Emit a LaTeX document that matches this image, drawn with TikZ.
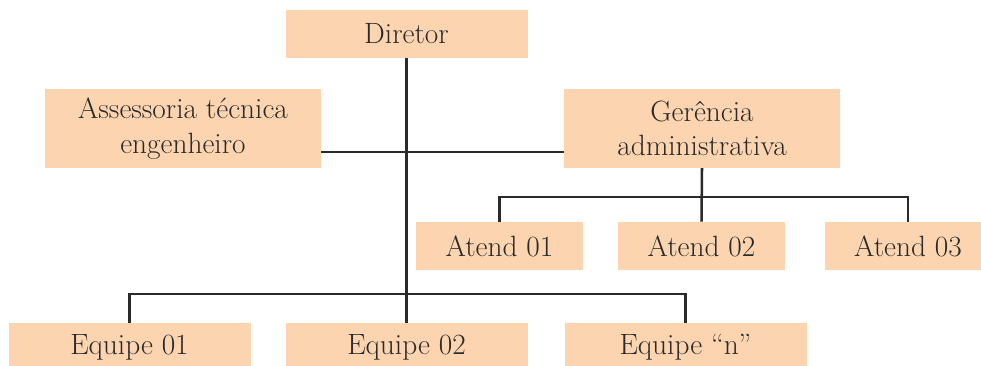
\documentclass[tikz,border=0pt]{standalone}
\usepackage{tikz}
\usetikzlibrary{positioning, calc}

\definecolor{boxfill}{RGB}{252,213,176}
\definecolor{ink}{RGB}{42,42,42}

\begin{document}
\begin{tikzpicture}[
    x=0.75pt, y=-0.75pt,
    box/.style={fill=boxfill, inner sep=0pt, align=center, text=ink,
                font=\fontsize{22}{26}\selectfont},
    topbox/.style={box, minimum width=181.5pt, minimum height=36pt},
    midbox/.style={box, minimum width=207pt, minimum height=59pt},
    atbox/.style={box, minimum width=125pt, minimum height=36pt},
    link/.style={draw=ink, line width=1.9pt}
  ]
  \useasboundingbox (0,0) rectangle (981,366);
  \clip (0,0) rectangle (981,366);

  % Boxes
  \node[topbox] (dir) at (406.5, 34) {Diretor};
  \node[midbox] (assess) at (183, 128.5) {Assessoria técnica\\engenheiro};
  \node[midbox] (ger) at (702, 128.5) {Gerência\\administrativa};

  \node[atbox] (at1) at (499.5, 246) {Atend 01};
  \node[atbox] (at2) at (701.5, 246) {Atend 02};
  \node[atbox] (at3) at (908, 246) {Atend 03};

  \node[topbox] (eq1) at (129.5, 347) {Equipe 01};
  \node[topbox] (eq2) at (406.5, 347) {Equipe 02};
  \node[topbox] (eqn) at (685.5, 347) {Equipe ``n''};

  % Bus lines
  \coordinate (staff) at (406.5, 152);
  \coordinate (atbus) at (701.5, 197);
  \coordinate (eqbus) at (406.5, 294);

  % Connectors
  \draw[link] (dir.south) -- (eq2.north);
  \draw[link] (assess.east |- staff) -- (ger.west |- staff);
  \draw[link] (ger.south) -- (at2.north);
  \draw[link] (at1.north) |- (at3.north |- atbus) -- (at3.north);
  \draw[link] (eq1.north) |- (eqn.north |- eqbus) -- (eqn.north);
\end{tikzpicture}
\end{document}
